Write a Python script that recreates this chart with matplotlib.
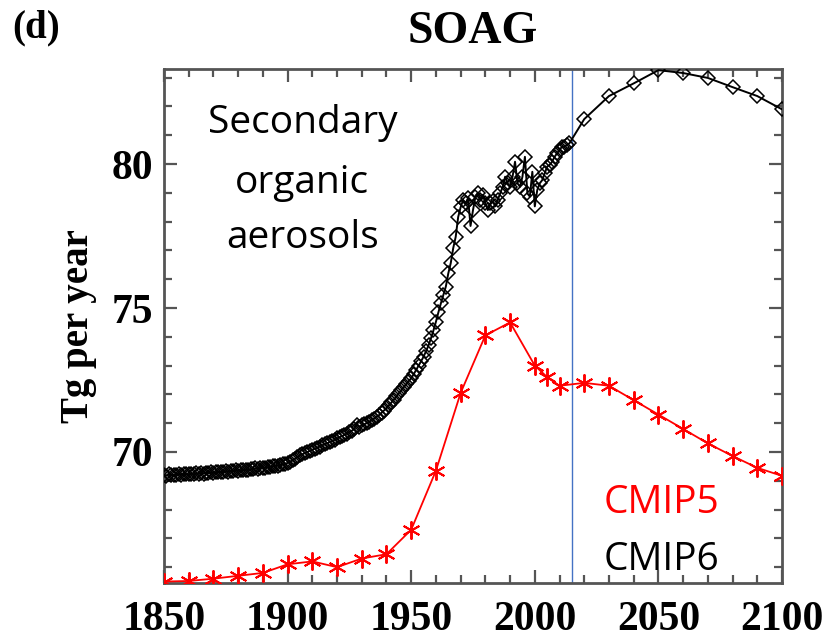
import numpy as np
import matplotlib
matplotlib.use('Agg')
from matplotlib import pyplot as plt
from matplotlib.ticker import MultipleLocator

# CMIP6 historical, annual 1850-2014
cmip6_hist_years = np.arange(1850, 2015)
cmip6_hist = [
    69.20, 69.18, 69.22, 69.19, 69.21, 69.20, 69.23, 69.21, 69.24, 69.22,
    69.23, 69.25, 69.22, 69.26, 69.24, 69.27, 69.25, 69.28, 69.26, 69.29,
    69.28, 69.30, 69.29, 69.31, 69.30, 69.33, 69.32, 69.34, 69.33, 69.36,
    69.35, 69.37, 69.36, 69.39, 69.38, 69.40, 69.41, 69.43, 69.42, 69.45,
    69.44, 69.46, 69.47, 69.49, 69.50, 69.52, 69.53, 69.55, 69.57, 69.59,
    69.62, 69.66, 69.71, 69.76, 69.82, 69.88, 69.92, 69.96, 70.00, 70.04,
    70.08, 70.12, 70.15, 70.19, 70.23, 70.27, 70.30, 70.34, 70.38, 70.42,
    70.47, 70.51, 70.55, 70.60, 70.64, 70.70, 70.74, 70.80, 70.95, 70.88,
    70.92, 70.96, 71.00, 71.05, 71.10, 71.16, 71.22, 71.28, 71.36, 71.44,
    71.52, 71.62, 71.72, 71.82, 71.93, 72.04, 72.14, 72.25, 72.36, 72.46,
    72.56, 72.70, 72.85, 73.00, 73.15, 73.31, 73.50, 73.70, 73.95, 74.22,
    74.52, 74.85, 75.16, 75.45, 75.74, 76.20, 76.56, 77.08, 77.47, 78.16,
    78.50, 78.75, 78.64, 78.82, 77.85, 78.40, 78.87, 79.00, 78.75, 78.93,
    78.64, 78.40, 78.64, 78.70, 78.53, 78.75, 78.98, 79.21, 79.56, 79.33,
    79.21, 79.56, 80.08, 79.33, 79.21, 79.56, 80.25, 78.98, 78.87, 79.73,
    78.53, 79.10, 79.33, 79.44, 79.68, 79.91, 79.97, 80.08, 80.25, 80.37,
    80.49, 80.60, 80.60, 80.66, 80.72,
]
# CMIP6 future, every 10 years
cmip6_fut_years = [2020, 2030, 2040, 2050, 2060, 2070, 2080, 2090, 2100]
cmip6_fut = [81.56, 82.36, 82.80, 83.26, 83.16, 82.99, 82.67, 82.36, 81.90]

# CMIP5
cmip5_years = [1850, 1860, 1870, 1880, 1890, 1900, 1910, 1920, 1930, 1940,
               1950, 1960, 1970, 1980, 1990, 2000, 2005, 2010, 2020, 2030,
               2040, 2050, 2060, 2070, 2080, 2090, 2100]
cmip5 = [65.50, 65.52, 65.60, 65.70, 65.80, 66.10, 66.20, 66.00, 66.30, 66.45,
         67.30, 69.35, 72.05, 74.05, 74.50, 73.00, 72.60, 72.30, 72.40, 72.30,
         71.80, 71.30, 70.80, 70.30, 69.86, 69.45, 69.17]

xticks = [1850, 1900, 1950, 2000, 2050, 2100]
yticks = [70, 75, 80]

serif = 'Liberation Serif'
sans = 'Open Sans'
frame = '#555555'

fig = plt.figure(figsize=(8.25, 6.41), dpi=100)
ax = fig.add_axes([164 / 825, 58 / 641, 618 / 825, 514 / 641])

ax.plot(list(cmip6_hist_years) + cmip6_fut_years, cmip6_hist + cmip6_fut,
        color='black', lw=1.4, marker='D', ms=7, mfc='none', mec='black',
        mew=1.1, zorder=3)
ax.plot(cmip5_years, cmip5, color='red', lw=1.3, marker=(6, 2, 0), ms=13,
        mec='red', mew=1.4, zorder=3)
ax.axvline(2015, color='#4472c4', lw=1.0, zorder=2)

ax.set_xlim(1850, 2100)
ax.set_ylim(65.45, 83.3)
ax.set_xticks(xticks)
ax.set_yticks(yticks)
ax.xaxis.set_minor_locator(MultipleLocator(10))
ax.yaxis.set_minor_locator(MultipleLocator(1))
ax.tick_params(which='both', direction='in', top=True, right=True,
               color=frame, width=1.6)
ax.tick_params(which='major', length=9.5, labelsize=30)
ax.tick_params(axis='y', which='major', pad=8)
ax.tick_params(axis='x', which='major', pad=13)
ax.tick_params(which='minor', length=5.5)
for lab in ax.get_xticklabels() + ax.get_yticklabels():
    lab.set_fontfamily(serif)
    lab.set_fontweight('bold')
for s in ax.spines.values():
    s.set_color(frame)
    s.set_linewidth(2)

ax.set_ylabel('Tg per year', fontfamily=serif, fontweight='bold',
              fontsize=28, labelpad=10)
ax.set_title('SOAG', fontfamily=serif, fontweight='bold', fontsize=33, pad=19)
fig.text(0.015, 0.941, '(d)', fontfamily=serif, fontweight='bold',
         fontsize=28)

for txt, yv in [('Secondary', 81.08), ('organic', 78.99), ('aerosols', 77.08)]:
    ax.text(1906, yv, txt, ha='center', va='baseline', fontfamily=sans,
            fontsize=28, color='black')
ax.text(2028, 67.88, 'CMIP5', ha='left', va='baseline', fontfamily=sans,
        fontsize=28, color='red')
ax.text(2028, 65.9, 'CMIP6', ha='left', va='baseline', fontfamily=sans,
        fontsize=28, color='black')

fig.savefig('out.png', dpi=100)
